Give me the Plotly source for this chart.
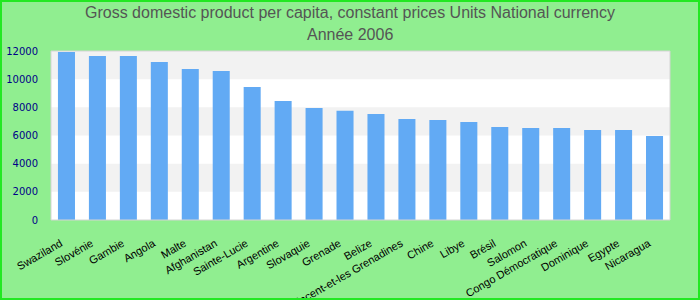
import plotly.graph_objects as go

countries = ["Swaziland", "Slovénie", "Gambie", "Angola", "Malte", "Afghanistan",
             "Sainte-Lucie", "Argentine", "Slovaquie", "Grenade", "Belize",
             "Saint-Vincent-et-les Grenadines", "Chine", "Libye", "Brésil", "Salomon",
             "Congo Démocratique", "Dominique", "Egypte", "Nicaragua"]
gdp = [11930, 11650, 11650, 11220, 10720, 10580, 9440, 8450, 7950, 7750, 7530,
       7170, 7100, 6960, 6600, 6530, 6530, 6390, 6390, 5960]
yticks = [0, 2000, 4000, 6000, 8000, 10000, 12000]
bands = [(2000, 4000), (6000, 8000), (10000, 12000)]
title_lines = ["Gross domestic product per capita, constant prices Units National currency",
               "Année 2006"]

W, H = 700, 300
ml, mr, mt, mb = 51, 30, 51, 80
pw, ph = W - ml - mr, H - mt - mb

fig = go.Figure(go.Bar(x=countries, y=gdp, marker=dict(color="#62AAF4", line=dict(width=0)),
                       hoverinfo="x+y"))

shapes = []
for y0, y1 in bands:
    shapes.append(dict(type="rect", xref="paper", yref="y", x0=0, x1=1, y0=y0, y1=y1,
                       fillcolor="#F2F2F2", line=dict(width=0), layer="below"))
shapes.append(dict(type="rect", xref="paper", yref="paper", x0=0, x1=1, y0=0, y1=1,
                   line=dict(color="#D4D4D4", width=1), fillcolor="rgba(0,0,0,0)"))
# outer border
shapes.append(dict(type="rect", xref="paper", yref="paper",
                   x0=(-ml + 1) / pw, x1=(W - ml - 1) / pw,
                   y0=(-mb + 1) / ph, y1=(H - mb - 1) / ph,
                   line=dict(color="#22E822", width=2), fillcolor="rgba(0,0,0,0)"))

annotations = []
for i, line in enumerate(title_lines):
    yc = 13 + 22 * i  # centre of the line, pixels from top
    annotations.append(dict(text=line, xref="paper", yref="paper",
                            x=(W / 2 - ml) / pw, y=(H - mb - yc) / ph,
                            xanchor="center", yanchor="middle", showarrow=False,
                            font=dict(family="Liberation Sans, Arial", size=16, color="#555555")))

fig.update_layout(
    width=W, height=H,
    margin=dict(l=ml, r=mr, t=mt, b=mb, pad=0, autoexpand=False),
    paper_bgcolor="#90EE90", plot_bgcolor="white",
    bargap=0.45,
    showlegend=False,
    shapes=shapes,
    annotations=annotations,
    xaxis=dict(type="category", tickangle=-30, showgrid=False, showline=False,
               automargin=False,
               ticks="outside", ticklen=12, tickcolor="rgba(0,0,0,0)",
               ticklabelshift=-6,
               tickfont=dict(family="Liberation Sans, Arial", size=11, color="#000000"),
               fixedrange=True),
    yaxis=dict(range=[0, 12000], tickvals=yticks, ticktext=[str(v) for v in yticks],
               automargin=False,
               showgrid=False, zeroline=False, showline=False,
               ticks="outside", ticklen=10, tickcolor="rgba(0,0,0,0)",
               tickfont=dict(family="DejaVu Sans, Verdana", size=10, color="#000088"),
               fixedrange=True),
)

fig.write_html("out.html")
